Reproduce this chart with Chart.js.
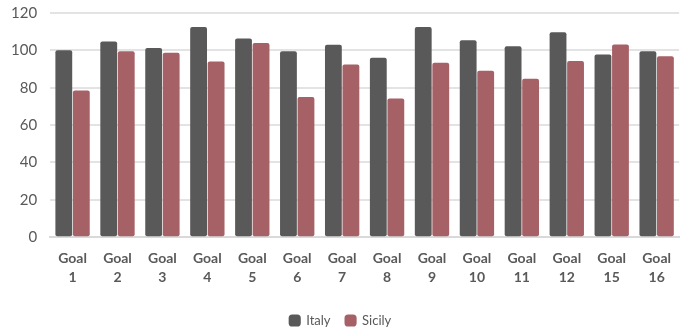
<!DOCTYPE html>
<html>
<head>
<meta charset="utf-8">
<script src="https://cdn.jsdelivr.net/npm/chart.js@4/dist/chart.umd.min.js"></script>
<style>
  html, body { margin: 0; padding: 0; background: #ffffff; }
  #wrap { width: 683px; height: 331px; }
</style>
</head>
<body>
<div id="wrap"><canvas id="chart" width="683" height="331"></canvas></div>
<script>
// Goal categories, drawn on two lines each
const categories = [
  ["Goal", "1"], ["Goal", "2"], ["Goal", "3"], ["Goal", "4"], ["Goal", "5"],
  ["Goal", "6"], ["Goal", "7"], ["Goal", "8"], ["Goal", "9"], ["Goal", "10"],
  ["Goal", "11"], ["Goal", "12"], ["Goal", "15"], ["Goal", "16"]
];
const italyValues  = [100, 104.7, 101.2, 112.5, 106.3, 99.5, 103, 96, 112.5, 105.4, 102.2, 109.7, 97.8, 99.5];
const sicilyValues = [78.5, 99.5, 98.7, 94.1, 103.9, 75.1, 92.5, 74.2, 93.4, 89.1, 84.8, 94.3, 103.2, 96.8];
const yTicks = [0, 20, 40, 60, 80, 100, 120];

const textColor = "#595959";
const fontFamily = "Lato, 'Open Sans', sans-serif";

new Chart(document.getElementById("chart"), {
  type: "bar",
  data: {
    labels: categories,
    datasets: [
      {
        label: "Italy",
        data: italyValues,
        backgroundColor: "#595959",
        borderRadius: 2,
        borderSkipped: false,
        categoryPercentage: 0.78,
        barPercentage: 0.96
      },
      {
        label: "Sicily",
        data: sicilyValues,
        backgroundColor: "#a66166",
        borderRadius: 2,
        borderSkipped: false,
        categoryPercentage: 0.78,
        barPercentage: 0.96
      }
    ]
  },
  options: {
    responsive: false,
    animation: false,
    layout: { padding: { top: 0, right: 0, left: -2, bottom: -6 } },
    plugins: {
      legend: {
        position: "bottom",
        labels: {
          usePointStyle: true,
          pointStyle: "rectRounded",
          boxWidth: 10,
          boxHeight: 10,
          padding: 15,
          color: textColor,
          font: { family: fontFamily, size: 13 }
        }
      },
      tooltip: { enabled: false }
    },
    scales: {
      x: {
        grid: { display: false, drawTicks: false },
        border: { display: true, color: "#d9d9d9", width: 2 },
        ticks: {
          color: textColor,
          font: { family: fontFamily, size: 14, weight: "bold", lineHeight: 1.35 },
          padding: 12,
          maxRotation: 0,
          autoSkip: false
        }
      },
      y: {
        min: 0,
        max: 120,
        afterBuildTicks: (axis) => { axis.ticks = yTicks.map(v => ({ value: v })); },
        afterFit: (axis) => { axis.paddingTop = 13; },
        grid: { color: "#e3e3e3", lineWidth: 2, drawTicks: false },
        border: { display: false },
        ticks: {
          color: textColor,
          font: { family: fontFamily, size: 15 },
          padding: 13
        }
      }
    }
  }
});
</script>
</body>
</html>
